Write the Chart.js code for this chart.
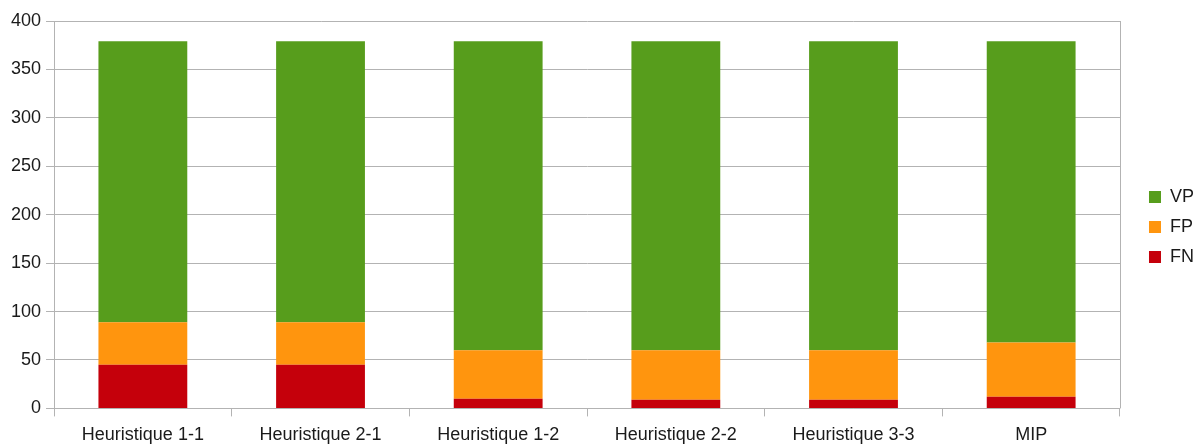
<!DOCTYPE html>
<html>
<head>
<meta charset="utf-8">
<script src="https://cdn.jsdelivr.net/npm/chart.js@4/dist/chart.umd.min.js"></script>
<style>
  html, body { margin: 0; padding: 0; background: #ffffff; }
  #wrap { width: 1195px; height: 444px; position: relative; }
</style>
</head>
<body>
<div id="wrap"><canvas id="c"></canvas></div>
<script>
const categories = ["Heuristique 1-1", "Heuristique 2-1", "Heuristique 1-2", "Heuristique 2-2", "Heuristique 3-3", "MIP"];
const FN = [45, 45, 10, 9, 9, 12];
const FP = [44, 44, 50, 51, 51, 56];
const VP = [290, 290, 319, 319, 319, 311];
const yTicks = [0, 50, 100, 150, 200, 250, 300, 350, 400];

const gridColor = "#b3b3b3";
const font = { family: "'Liberation Sans', Arial, sans-serif", size: 18 };

const rightBorder = {
  id: "rightBorder",
  afterLayout(chart) {
    const l = chart.legend;
    if (!l) return;
    const pad = l.options.labels.padding;
    const dx = chart.chartArea.right + 29 - (l.left + pad);
    l.left += dx;
    l.right += dx;
    const dy = 227 - (l.top + l.bottom) / 2;
    l.top += dy;
    l.bottom += dy;
  },
  afterDraw(chart) {
    const { ctx, chartArea } = chart;
    ctx.save();
    ctx.strokeStyle = gridColor;
    ctx.lineWidth = 1;
    ctx.beginPath();
    ctx.moveTo(Math.round(chartArea.right) + 0.5, chartArea.top);
    ctx.lineTo(Math.round(chartArea.right) + 0.5, chartArea.bottom);
    ctx.stroke();
    ctx.restore();
  }
};

new Chart(document.getElementById("c"), {
  type: "bar",
  data: {
    labels: categories,
    datasets: [
      { label: "FN", data: FN, backgroundColor: "#c5000b" },
      { label: "FP", data: FP, backgroundColor: "#ff950e" },
      { label: "VP", data: VP, backgroundColor: "#579d1c" }
    ]
  },
  options: {
    responsive: true,
    maintainAspectRatio: false,
    animation: false,
    layout: { padding: { top: 21, right: 8, left: 6, bottom: -10 } },
    datasets: { bar: { barPercentage: 0.5, categoryPercentage: 1.0 } },
    plugins: {
      tooltip: { enabled: false },
      legend: {
        position: "right",
        reverse: true,
        labels: {
          boxWidth: 12,
          boxHeight: 12,
          padding: 12,
          color: "#1a1a1a",
          font: font
        }
      }
    },
    scales: {
      x: {
        stacked: true,
        grid: { display: true, offset: true, drawOnChartArea: false, color: gridColor, tickLength: 8 },
        border: { color: gridColor },
        ticks: { color: "#1a1a1a", font: font, padding: 8, maxRotation: 0 }
      },
      y: {
        stacked: true,
        min: 0,
        max: 400,
        afterBuildTicks(axis) { axis.ticks = yTicks.map(v => ({ value: v })); },
        grid: { color: gridColor, tickLength: 8 },
        border: { color: gridColor },
        ticks: { color: "#1a1a1a", font: font, padding: 5 }
      }
    }
  },
  plugins: [rightBorder]
});
</script>
</body>
</html>
